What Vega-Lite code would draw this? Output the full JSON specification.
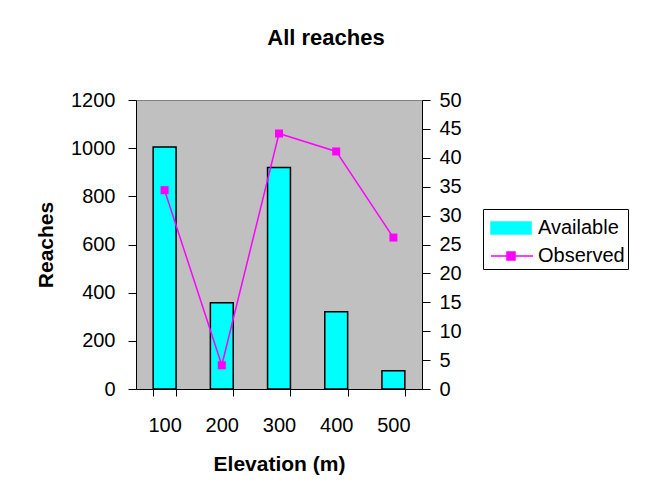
{
  "$schema": "https://vega.github.io/schema/vega-lite/v6.json",
  "autosize": {"type": "none"},
  "padding": {"left": 136, "top": 100, "right": 223, "bottom": 109},
  "width": 286,
  "height": 289,
  "background": "white",
  "title": {"text": "All reaches", "font": "Liberation Sans", "fontSize": 22, "fontWeight": "bold", "color": "black", "anchor": "middle", "frame": "group", "dx": 47, "offset": 40},
  "data": {"values": [
    {"elevation": "100", "available": 1005, "observed": 34.4},
    {"elevation": "200", "available": 358, "observed": 4.1},
    {"elevation": "300", "available": 920, "observed": 44.2},
    {"elevation": "400", "available": 321, "observed": 41.1},
    {"elevation": "500", "available": 76, "observed": 26.2}
  ]},
  "encoding": {
    "x": {"field": "elevation", "type": "ordinal", "scale": {"paddingInner": 0.6, "paddingOuter": 0.3},
      "axis": {"title": "Elevation (m)", "labelAngle": 0, "tickBand": "extent", "tickSize": 7, "labelPadding": 19, "titlePadding": 18, "titleFontWeight": "bold"}}
  },
  "layer": [
    {
      "mark": {"type": "bar", "stroke": "black", "strokeWidth": 1.5},
      "encoding": {
        "y": {"field": "available", "type": "quantitative", "scale": {"domain": [0, 1200]},
          "axis": {"title": "Reaches", "format": "d", "values": [0, 200, 400, 600, 800, 1000, 1200], "tickSize": 8, "labelPadding": 13, "titlePadding": 14, "titleFontWeight": "bold"}},
        "color": {"datum": "Available", "type": "nominal",
          "scale": {"domain": ["Available", "Observed"], "range": ["#00FFFF", "#FF00FF"]},
          "legend": {"orient": "none", "legendX": 347, "legendY": 109, "title": null, "strokeColor": "black", "fillColor": "white", "padding": 3,
            "labelFont": "Liberation Sans", "labelFontSize": 20, "labelColor": "black", "symbolSize": 900, "labelOffset": 20,
            "encode": {"symbols": {"update": {
              "shape": {"signal": "datum.value === 'Available' ? 'M-0.733,-0.4H1.933V0.4H-0.733Z' : 'M-0.733,0H2.067M0.333,-0.267H0.867V0.267H0.333Z'"},
              "fill": {"signal": "datum.value === 'Available' ? '#00FFFF' : '#FF00FF'"},
              "stroke": {"signal": "datum.value === 'Available' ? '#000000' : '#FF00FF'"},
              "strokeWidth": {"value": 1.5},
              "opacity": {"value": 1}
            }}}}}
      }
    },
    {
      "mark": {"type": "line", "strokeWidth": 1.5, "point": {"shape": "square", "filled": true, "size": 64, "opacity": 1}},
      "encoding": {
        "y": {"field": "observed", "type": "quantitative", "scale": {"domain": [0, 50]},
          "axis": {"orient": "right", "title": null, "values": [0, 5, 10, 15, 20, 25, 30, 35, 40, 45, 50], "tickSize": 8, "labelPadding": 9}},
        "color": {"datum": "Observed", "type": "nominal",
          "legend": {"orient": "none", "legendX": 347, "legendY": 109, "title": null, "strokeColor": "black", "fillColor": "white", "padding": 3,
            "labelFont": "Liberation Sans", "labelFontSize": 20, "labelColor": "black", "symbolSize": 900, "labelOffset": 20,
            "encode": {"symbols": {"update": {
              "shape": {"signal": "datum.value === 'Available' ? 'M-0.733,-0.4H1.933V0.4H-0.733Z' : 'M-0.733,0H2.067M0.333,-0.267H0.867V0.267H0.333Z'"},
              "fill": {"signal": "datum.value === 'Available' ? '#00FFFF' : '#FF00FF'"},
              "stroke": {"signal": "datum.value === 'Available' ? '#000000' : '#FF00FF'"},
              "strokeWidth": {"value": 1.5},
              "opacity": {"value": 1}
            }}}}}
      }
    }
  ],
  "resolve": {"scale": {"y": "independent"}},
  "config": {
    "view": {"fill": "#C0C0C0", "stroke": "#808080"},
    "font": "Liberation Sans",
    "axis": {"domainColor": "black", "tickColor": "black", "labelColor": "black", "titleColor": "black",
      "labelFont": "Liberation Sans", "titleFont": "Liberation Sans", "labelFontSize": 20, "titleFontSize": 21, "grid": false}
  }
}
